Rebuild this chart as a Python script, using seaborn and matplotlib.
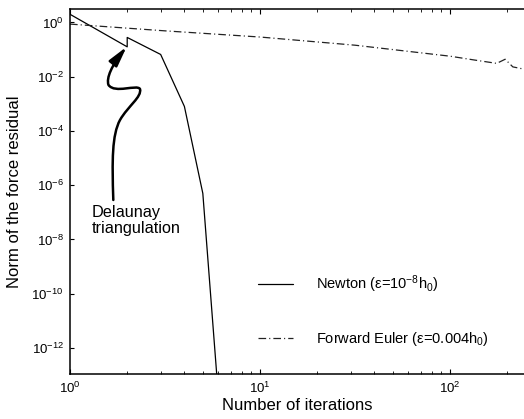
import matplotlib
matplotlib.use("Agg")
import matplotlib.pyplot as plt
import seaborn as sns
import numpy as np
import pandas as pd
from matplotlib.path import Path
from matplotlib.patches import FancyArrowPatch
from matplotlib.ticker import LogLocator, NullLocator

# ---- data ----
newton_iter = [1, 2, 2, 3, 4, 5, 6]
newton_res = [2.0, 0.126, 0.28, 0.066, 8e-4, 5e-7, 3e-14]

euler_iter = [1, 3.16, 10, 31.6, 100, 135, 176, 195, 214, 245]
euler_res = [0.87, 0.49, 0.29, 0.145, 0.057, 0.041, 0.031, 0.044, 0.023, 0.019]

newton_label = "Newton (\u03b5=10$^{\u22128}$h$_{0}$)"
euler_label = "Forward Euler (\u03b5=0.004h$_{0}$)"
x_label = "Number of iterations"
y_label = "Norm of the force residual"
annot_text = "Delaunay\ntriangulation"
y_ticks = [1e0, 1e-2, 1e-4, 1e-6, 1e-8, 1e-10, 1e-12]

sns.set_theme(style="white")
plt.rcParams["font.family"] = ["Liberation Sans", "DejaVu Sans"]
plt.rcParams["mathtext.fontset"] = "custom"
plt.rcParams["mathtext.rm"] = "Liberation Sans"
plt.rcParams["mathtext.it"] = "Liberation Sans"
plt.rcParams["mathtext.default"] = "regular"
plt.rcParams["lines.scale_dashes"] = False
for key in ["text.color", "axes.labelcolor", "xtick.color", "ytick.color",
            "axes.edgecolor"]:
    plt.rcParams[key] = "black"

fig = plt.figure(figsize=(5.24, 4.19), dpi=100)
ax = fig.add_axes([70 / 524, 1 - 374 / 419, 454 / 524, (374 - 9.5) / 419])

df_n = pd.DataFrame({"it": newton_iter, "res": newton_res})
df_e = pd.DataFrame({"it": euler_iter, "res": euler_res})

sns.lineplot(data=df_n, x="it", y="res", estimator=None, sort=False, ax=ax,
             color="black", lw=0.9, label=newton_label)
sns.lineplot(data=df_e, x="it", y="res", estimator=None, sort=False, ax=ax,
             color="#222222", lw=0.9, linestyle=(0, (5.5, 2.2, 0.8, 2.2)),
             label=euler_label)

ax.set_xscale("log")
ax.set_yscale("log")
ax.set_xlim(1, 245)
ax.set_ylim(1.1e-13, 3)
ax.set_yticks(y_ticks)
ax.yaxis.set_minor_locator(NullLocator())
ax.xaxis.set_major_locator(LogLocator(base=10))
ax.xaxis.set_minor_locator(LogLocator(base=10, subs=np.arange(2, 10)))

for side in ["left", "bottom", "top"]:
    ax.spines[side].set_visible(True)
    ax.spines[side].set_color("black")
    ax.spines[side].set_linewidth(1.1)
ax.spines["right"].set_visible(False)

ax.tick_params(axis="x", which="major", direction="in", length=3.5, width=0.8,
               top=True, bottom=True, labelsize=9.5, pad=5, color="black",
               labelcolor="black")
ax.tick_params(axis="x", which="minor", direction="in", length=2, width=0.6,
               top=True, bottom=True, color="black")
ax.tick_params(axis="y", which="major", direction="in", length=3, width=0.8,
               left=True, right=False, labelsize=9.5, pad=4.5, color="black",
               labelcolor="black")

ax.set_xlabel(x_label, fontsize=12, labelpad=1, color="black")
ax.set_ylabel(y_label, fontsize=12, labelpad=7, color="black")

leg = ax.legend(loc="lower left", bbox_to_anchor=(0.385, 0.035), frameon=False,
                fontsize=10.5, handlelength=2.4, handletextpad=1.6,
                labelspacing=2.4)
for t in leg.get_texts():
    t.set_color("black")

ax.text(0.0485, 0.4636, annot_text, transform=ax.transAxes, fontsize=11.7,
        ha="left", va="top", linespacing=1.05, color="black")

verts = [(0.0954, 0.4774),
         (0.0925, 0.5871), (0.0925, 0.6557), (0.1101, 0.6968),
         (0.1278, 0.7353), (0.1586, 0.7599), (0.1542, 0.7819),
         (0.1476, 0.7956), (0.0991, 0.7682), (0.0848, 0.7929),
         (0.0793, 0.8121), (0.0925, 0.8477), (0.1249, 0.8979)]
codes = [Path.MOVETO] + [Path.CURVE4] * 12
arrow = FancyArrowPatch(path=Path(verts, codes), transform=ax.transAxes,
                        arrowstyle="-|>,head_length=1.2,head_width=0.3",
                        mutation_scale=10, lw=1.8, color="black")
ax.add_patch(arrow)

fig.savefig("out.png", dpi=100)
